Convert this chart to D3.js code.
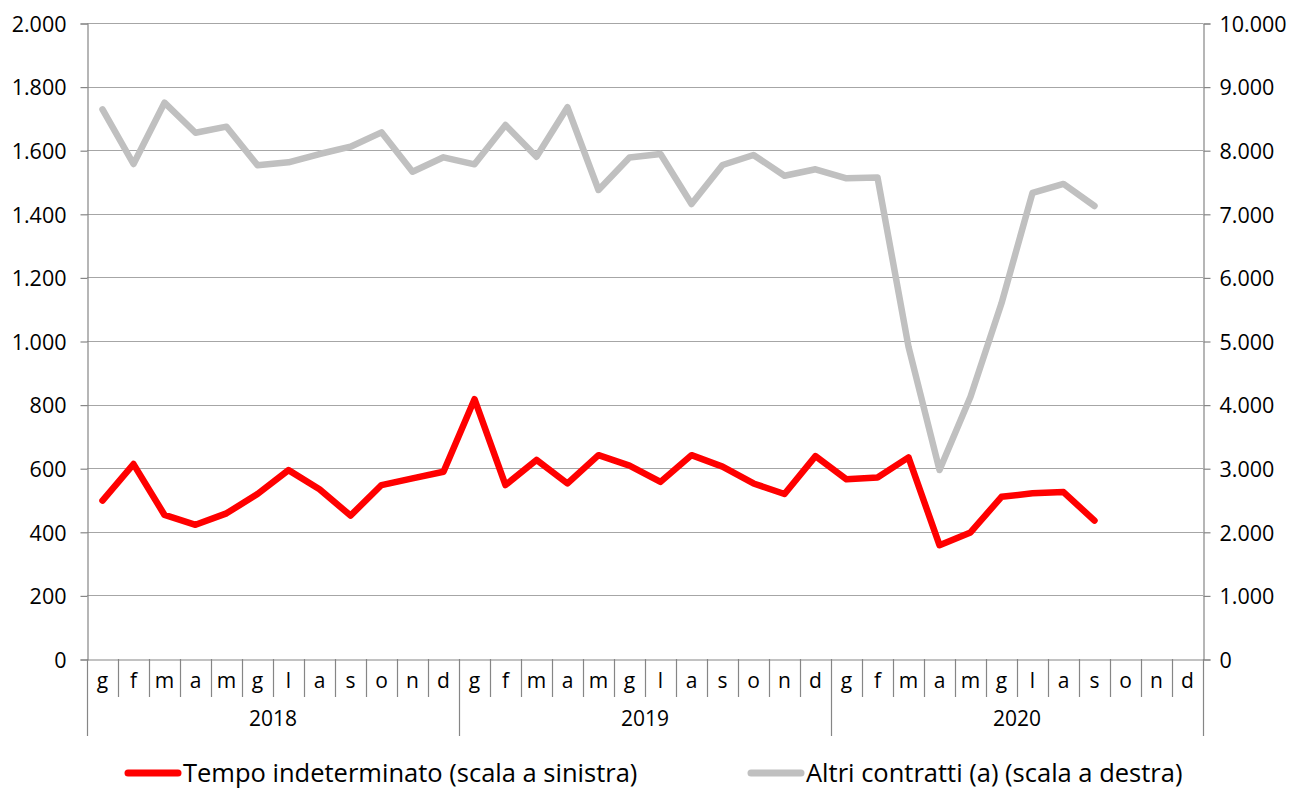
<!DOCTYPE html>
<html>
<head>
<meta charset="utf-8">
<script src="https://cdn.jsdelivr.net/npm/d3@7"></script>
<style>
  body { margin: 0; background: #fff; }
  svg { font-family: "Open Sans", sans-serif; }
</style>
</head>
<body>
<div id="chart"></div>
<script>
'use strict';

// months of each year (italian initials)
var months = ["g", "f", "m", "a", "m", "g", "l", "a", "s", "o", "n", "d"];
var years = ["2018", "2019", "2020"];

// Tempo indeterminato (left axis), gen 2018 - set 2020
var tempoIndeterminato = [498, 613, 453, 422, 458, 519, 594, 534, 451, 547, 568, 589,
    817, 547, 626, 552, 641, 608, 557, 641, 605, 552, 519, 638,
    565, 571, 634, 358, 398, 510, 521, 525, 435];

// Altri contratti (right axis)
var altriContratti = [8643, 7783, 8747, 8275, 8370, 7762, 7809, 7940, 8055, 8281, 7662, 7888,
    7778, 8396, 7898, 8675, 7374, 7885, 7940, 7154, 7767, 7925, 7599, 7700,
    7558, 7572, 4910, 2972, 4125, 5593, 7330, 7469, 7123];

var leftTicks = [0, 200, 400, 600, 800, 1000, 1200, 1400, 1600, 1800, 2000];
var rightTicks = [0, 1000, 2000, 3000, 4000, 5000, 6000, 7000, 8000, 9000, 10000];

var seriesNames = ["Tempo indeterminato (scala a sinistra)", "Altri contratti (a) (scala a destra)"];
var seriesColors = ["#ff0000", "#c0c0c0"];

drawChart();

function drawChart() {

    var width = 1295, height = 789;
    var margin = {left: 87, right: 92, top: 23, bottom: 130};

    var svg = d3.select("#chart")
        .append("svg")
        .attr("width", width)
        .attr("height", height);

    // one slot per month over all years
    var slots = [];
    years.forEach(function (y, yi) {
        months.forEach(function (m, mi) { slots.push(yi * 12 + mi); });
    });

    var x = d3.scaleBand()
        .domain(slots)
        .range([margin.left, width - margin.right]);

    var yLeft = d3.scaleLinear()
        .domain([0, 2000])
        .range([height - margin.bottom, margin.top]);

    var yRight = d3.scaleLinear()
        .domain([0, 10000])
        .range([height - margin.bottom, margin.top]);

    var fmt = function (d) { return d3.format(",")(d).replace(/,/g, "."); };

    // gridlines
    svg.append("g")
        .selectAll("line")
        .data(leftTicks.slice(1))
        .enter()
        .append("line")
        .attr("x1", margin.left)
        .attr("x2", width - margin.right)
        .attr("y1", function (d) { return Math.round(yLeft(d)) + 0.5; })
        .attr("y2", function (d) { return Math.round(yLeft(d)) + 0.5; })
        .attr("stroke", "#a6a6a6")
        .attr("stroke-width", 1.2);

    // left axis
    var gLeft = svg.append("g")
        .attr("transform", "translate(" + (margin.left + 0.5) + ",0.5)")
        .call(d3.axisLeft(yLeft).tickValues(leftTicks).tickFormat(fmt).tickSize(7).tickPadding(14));

    // right axis
    var gRight = svg.append("g")
        .attr("transform", "translate(" + (width - margin.right + 0.5) + ",0.5)")
        .call(d3.axisRight(yRight).tickValues(rightTicks).tickFormat(fmt).tickSize(7).tickPadding(9));

    [gLeft, gRight].forEach(function (g) {
        g.select(".domain").attr("stroke", "#868686").attr("stroke-width", 1.2);
        g.selectAll(".tick line").attr("stroke", "#868686").attr("stroke-width", 1.2);
        g.selectAll(".tick text")
            .attr("fill", "#000")
            .style("font-size", "21.5px")
            .attr("dy", "0.36em");
        g.attr("font-family", null).attr("font-size", null);
    });

    // bottom axis: month initials
    var base = height - margin.bottom;
    var gBottom = svg.append("g")
        .attr("transform", "translate(0," + (base + 0.5) + ")")
        .call(d3.axisBottom(x).tickSize(0).tickPadding(14)
            .tickFormat(function (d) { return months[d % 12]; }));
    gBottom.attr("font-family", null).attr("font-size", null);
    gBottom.select(".domain").attr("stroke", "#868686").attr("stroke-width", 1.2);
    gBottom.selectAll(".tick text")
        .attr("fill", "#000")
        .style("font-size", "21px");

    // separators between months and between years
    var bounds = slots.concat([slots.length]);
    svg.append("g")
        .selectAll("line")
        .data(bounds)
        .enter()
        .append("line")
        .attr("x1", function (d) { return Math.round(margin.left + d * x.bandwidth()) + 0.5; })
        .attr("x2", function (d) { return Math.round(margin.left + d * x.bandwidth()) + 0.5; })
        .attr("y1", base)
        .attr("y2", function (d) { return d % 12 === 0 ? base + 77 : base + 38; })
        .attr("stroke", "#868686")
        .attr("stroke-width", 1.2);

    // year labels
    svg.append("g")
        .selectAll("text")
        .data(years)
        .enter()
        .append("text")
        .attr("x", function (d, i) { return x(i * 12) + x.bandwidth() * 6; })
        .attr("y", base + 67)
        .attr("text-anchor", "middle")
        .style("font-size", "21px")
        .text(function (d) { return d; });

    // lines
    var lineLeft = d3.line()
        .x(function (d, i) { return x(i) + x.bandwidth() / 2; })
        .y(function (d) { return yLeft(d); });

    var lineRight = d3.line()
        .x(function (d, i) { return x(i) + x.bandwidth() / 2; })
        .y(function (d) { return yRight(d); });

    svg.append("path")
        .datum(altriContratti)
        .attr("d", lineRight)
        .attr("fill", "none")
        .attr("stroke", seriesColors[1])
        .attr("stroke-width", 6.5)
        .attr("stroke-linejoin", "round")
        .attr("stroke-linecap", "round");

    svg.append("path")
        .datum(tempoIndeterminato)
        .attr("d", lineLeft)
        .attr("fill", "none")
        .attr("stroke", seriesColors[0])
        .attr("stroke-width", 6.5)
        .attr("stroke-linejoin", "round")
        .attr("stroke-linecap", "round");

    // legend
    var legendX = [125, 748];
    var legend = svg.append("g")
        .selectAll("g")
        .data(seriesNames)
        .enter()
        .append("g")
        .attr("transform", function (d, i) { return "translate(" + legendX[i] + ",773)"; });

    legend.append("line")
        .attr("x1", 3)
        .attr("x2", 53)
        .attr("stroke", function (d, i) { return seriesColors[i]; })
        .attr("stroke-width", 7)
        .attr("stroke-linecap", "round");

    legend.append("text")
        .attr("x", 58)
        .attr("dy", "0.36em")
        .style("font-size", "25.5px")
        .text(function (d) { return d; });
}
</script>
</body>
</html>
